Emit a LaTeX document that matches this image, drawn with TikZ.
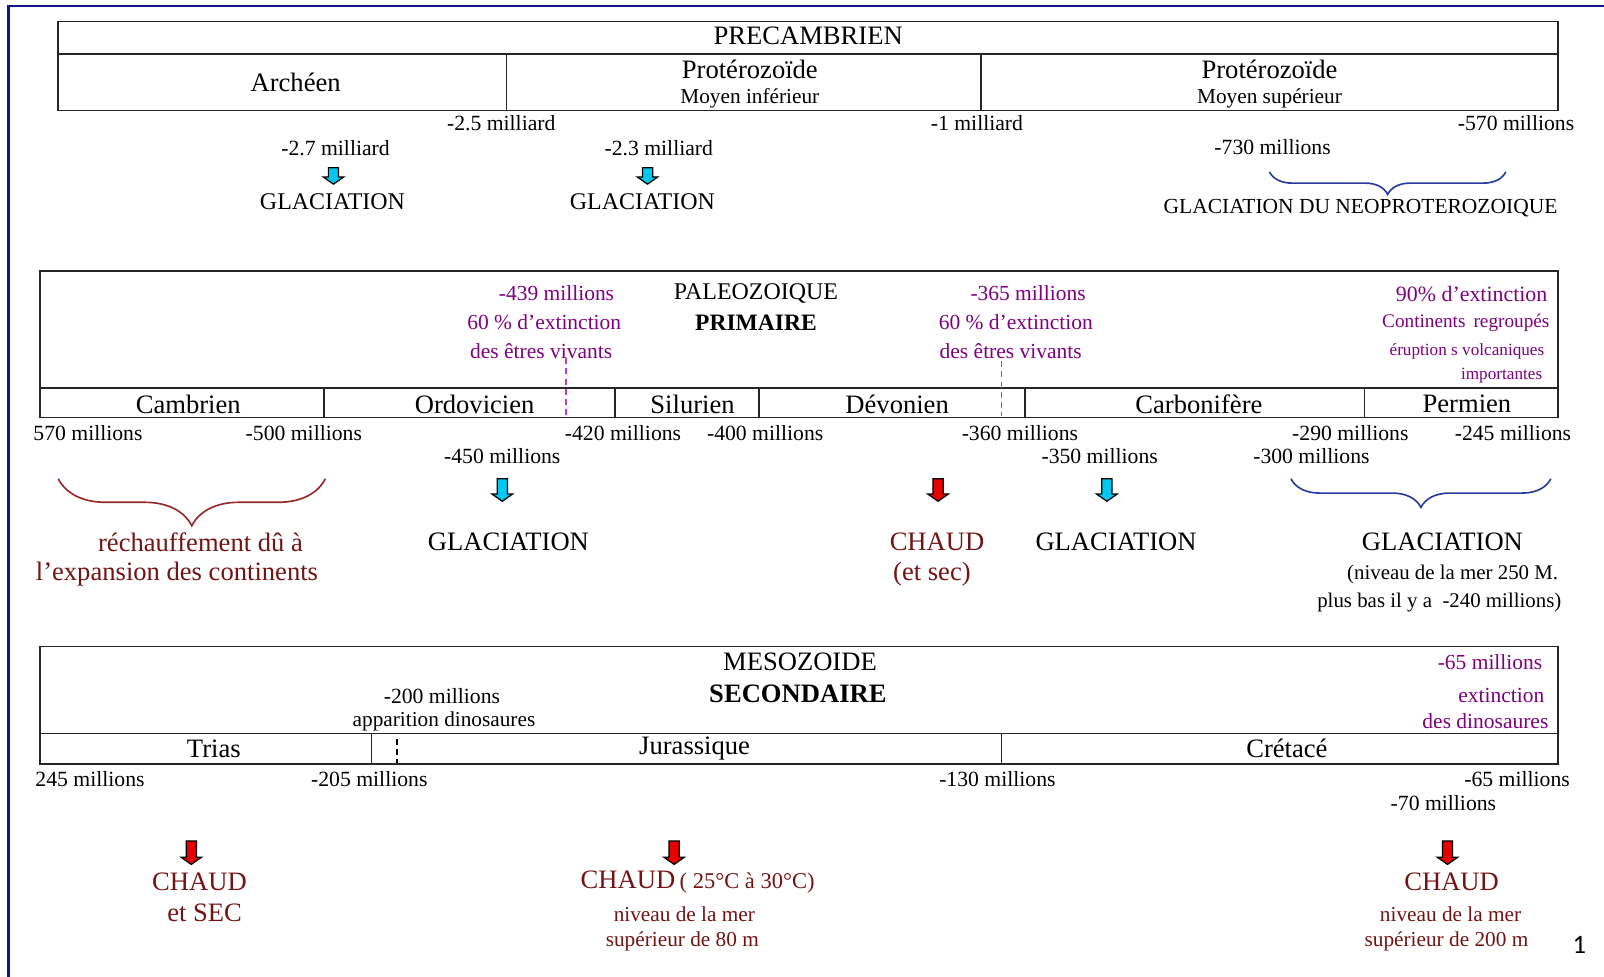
\documentclass[tikz,border=0pt]{standalone}
\usepackage{fontspec}
\setmainfont{Liberation Serif}
\newfontfamily\pagefont{Carlito}
\usetikzlibrary{decorations.pathreplacing,positioning}
\definecolor{evtpurple}{RGB}{128,0,128}
\definecolor{hotred}{RGB}{115,20,20}
\definecolor{warmbrace}{RGB}{150,40,40}
\definecolor{coldbrace}{RGB}{40,60,160}
\definecolor{icecyan}{RGB}{0,200,240}
\definecolor{firered}{RGB}{230,0,0}
\definecolor{pagenavy}{RGB}{20,20,140}
\definecolor{evtdash}{RGB}{190,60,190}

\begin{document}
\begin{tikzpicture}[x=0.5pt,y=-0.5pt, every node/.style={inner sep=0pt},
    tbl/.style={draw=black!85, line width=0.8pt},
    era/.style={font=\fontsize{13}{15}\selectfont},
    head/.style={font=\fontsize{11.7}{14}\selectfont},
    lbl/.style={font=\fontsize{10.6}{12}\selectfont},
    sub/.style={font=\fontsize{10.4}{12}\selectfont},
    evt/.style={font=\fontsize{10.5}{12}\selectfont, text=evtpurple},
    hot/.style={text=hotred},
    blockarrow/.style={draw=black, line width=0.6pt, line join=miter},
    evtline/.style={draw=evtdash, line width=0.8pt, densely dashed}]
    \fill[white] (0,0) rectangle (1568,955);
    \useasboundingbox (0,0) rectangle (1568,955);
    \draw[pagenavy, line width=1.3pt] (1568,6) -- (8,6) -- (8,955);

    % precambrien
    \draw[tbl] (57,21) rectangle (1523,108);
    \draw[tbl] (57,53) -- (1523,53);
    \draw[tbl] (495,53) -- (495,108);
    \draw[tbl] (959,53) -- (959,108);
    \node[era] (pre) at (790,35) {PRECAMBRIEN};
    \node[era] (arc) at (289,81) {Archéen};
    \node[era] (pinf) at (733,68) {Protérozoïde};
    \node[sub] (minf) at (733,96) {Moyen inférieur};
    \node[era] (psup) at (1241,68) {Protérozoïde};
    \node[sub] (msup) at (1241,96) {Moyen supérieur};
    \node[lbl] (t25) at (490,120) {-2.5 milliard};
    \node[lbl] (t10) at (955,120) {-1 milliard};
    \node[lbl] (t570a) at (1482,120) {-570 millions};
    \node[lbl] (t27) at (328,145) {-2.7 milliard};
    \node[lbl] (t23) at (644,145) {-2.3 milliard};
    \node[lbl] (t730) at (1244,144) {-730 millions};
    \node[head] (gla1) at (325,197) {GLACIATION};
    \node[head] (gla2) at (628,197) {GLACIATION};
    \node[font=\fontsize{10.5}{12}\selectfont] (neo) at (1330,203) {GLACIATION DU NEOPROTEROZOIQUE};
    \draw[coldbrace, line width=0.8pt, decorate, decoration={brace, amplitude=11pt, mirror}] (1241,168) -- (1472,168);

    % paleozoique
    \draw[tbl] (39,265) rectangle (1523,408);
    \draw[tbl] (39,379) -- (1523,379);
    \foreach \dx in {317,601,742,1002,1334}
        \draw[tbl] (\dx,379) -- (\dx,408);
    \node[head] (pal) at (739,287) {PALEOZOIQUE};
    \node[head, font=\fontsize{11.5}{14}\selectfont\bfseries] (prim) at (739,315) {PRIMAIRE};
    \node[evt] (e439) at (544,287) {-439 millions};
    \node[evt] (x439) at (532,315) {60 \% d’extinction};
    \node[evt] (v439) at (529,343) {des êtres vivants};
    \node[evt] (e365) at (1005,287) {-365 millions};
    \node[evt] (x365) at (993,315) {60 \% d’extinction};
    \node[evt] (v365) at (988,343) {des êtres vivants};
    \node[evt, anchor=east, font=\fontsize{10.7}{12}\selectfont] (x250) at (1513,287) {90\% d’extinction};
    \node[evt, anchor=east, font=\fontsize{9.4}{11}\selectfont] (c250) at (1515,316) {Continents\, regroupés};
    \node[evt, anchor=east, font=\fontsize{8.4}{10}\selectfont] (v250) at (1510,343) {éruption s volcaniques};
    \node[evt, anchor=east, font=\fontsize{8.4}{10}\selectfont] (i250) at (1508,367) {importantes};
    \draw[evtline] (553,350) -- (553,407);
    \draw[evtline] (979,353) -- (979,407);
    \node[era] (cam) at (184,395) {Cambrien};
    \node[era] (ord) at (464,395) {Ordovicien};
    \node[era] (sil) at (677,395) {Silurien};
    \node[era] (dev) at (877,395) {Dévonien};
    \node[era] (car) at (1172,395) {Carbonifère};
    \node[era] (per) at (1434,395) {Permien};
    \node[lbl] (t570b) at (86,423) {570 millions};
    \node[lbl] (t500) at (297,423) {-500 millions};
    \node[lbl] (t420) at (609,423) {-420 millions};
    \node[lbl] (t400) at (748,423) {-400 millions};
    \node[lbl] (t360) at (997,423) {-360 millions};
    \node[lbl] (t290) at (1320,423) {-290 millions};
    \node[lbl] (t245a) at (1479,423) {-245 millions};
    \node[lbl] (t450) at (491,446) {-450 millions};
    \node[lbl] (t350) at (1075,446) {-350 millions};
    \node[lbl] (t300) at (1282,446) {-300 millions};
    \draw[warmbrace, line width=0.8pt, decorate, decoration={brace, amplitude=23pt, mirror}] (57,468) -- (318,468);
    \draw[coldbrace, line width=0.8pt, decorate, decoration={brace, amplitude=14pt, mirror}] (1262,468) -- (1516,468);
    \node[era, hot] (rech) at (196,530) {réchauffement dû à};
    \node[era, hot] (expa) at (173,561) {l’expansion des continents};
    \node[era] (gla3) at (497,530) {GLACIATION};
    \node[era, hot] (chd1) at (916,530) {CHAUD};
    \node[era, hot] (sec1) at (911,561) {(et sec)};
    \node[era] (gla4) at (1091,530) {GLACIATION};
    \node[era] (gla5) at (1410,530) {GLACIATION};
    \node[font=\fontsize{10.2}{12}\selectfont] (niv250) at (1420,562) {(niveau de la mer 250 M.};
    \node[font=\fontsize{10.2}{12}\selectfont] (bas240) at (1407,589) {plus bas il y a \ -240 millions)};

    % mesozoide
    \draw[tbl] (39,632) rectangle (1523,747);
    \draw[tbl] (39,717) -- (1523,717);
    \draw[tbl] (363,717) -- (363,747);
    \draw[tbl] (979,717) -- (979,747);
    \draw[black, line width=0.7pt, densely dashed] (388,722) -- (388,746);
    \node[era] (meso) at (782,647) {MESOZOIDE};
    \node[era, font=\fontsize{13}{15}\selectfont\bfseries] (seco) at (780,678) {SECONDAIRE};
    \node[lbl] (t200) at (432,680) {-200 millions};
    \node[sub] (dino) at (434,705) {apparition dinosaures};
    \node[evt, anchor=east] (e65) at (1508,647) {-65 millions};
    \node[evt, anchor=east] (x65) at (1510,680) {extinction};
    \node[evt, anchor=east] (d65) at (1514,705) {des dinosaures};
    \node[era] (tri) at (209,732) {Trias};
    \node[era] (jur) at (679,732) {Jurassique};
    \node[era] (cre) at (1258,732) {Crétacé};
    \node[lbl] (t245b) at (88,762) {245 millions};
    \node[lbl] (t205) at (361,762) {-205 millions};
    \node[lbl] (t130) at (975,762) {-130 millions};
    \node[lbl] (t65) at (1483,762) {-65 millions};
    \node[lbl] (t70) at (1411,785) {-70 millions};
    \node[era, hot] (chd2) at (195,862) {CHAUD};
    \node[era, hot] (sec2) at (200,892) {et SEC};
    \node[era, hot] (chd3) at (682,862) {CHAUD\,{\fontsize{11}{13}\selectfont( 25°C à 30°C)}};
    \node[sub, hot] (niv80) at (669,894) {niveau de la mer};
    \node[sub, hot] (sup80) at (667,920) {supérieur de 80 m};
    \node[era, hot] (chd4) at (1419,862) {CHAUD};
    \node[sub, hot] (niv200) at (1418,894) {niveau de la mer};
    \node[sub, hot] (sup200) at (1414,920) {supérieur de 200 m};

    % fleches
    \foreach \ax/\ay/\al/\ac in {326/164/16/icecyan, 633/164/16/icecyan,
        491/468/22/icecyan, 917/468/22/firered, 1082/468/22/icecyan,
        187/822/23/firered, 659/822/23/firered, 1415/822/23/firered}
        \draw[blockarrow, fill=\ac] (\ax-5,\ay) -- (\ax+5,\ay) -- (\ax+5,\ay+\al-7)
            -- (\ax+10,\ay+\al-7) -- (\ax,\ay+\al) -- (\ax-10,\ay+\al-7)
            -- (\ax-5,\ay+\al-7) -- cycle;

    \node[font=\pagefont\fontsize{13}{15}\selectfont] (pnum) at (1544,924) {1};
\end{tikzpicture}
\end{document}
